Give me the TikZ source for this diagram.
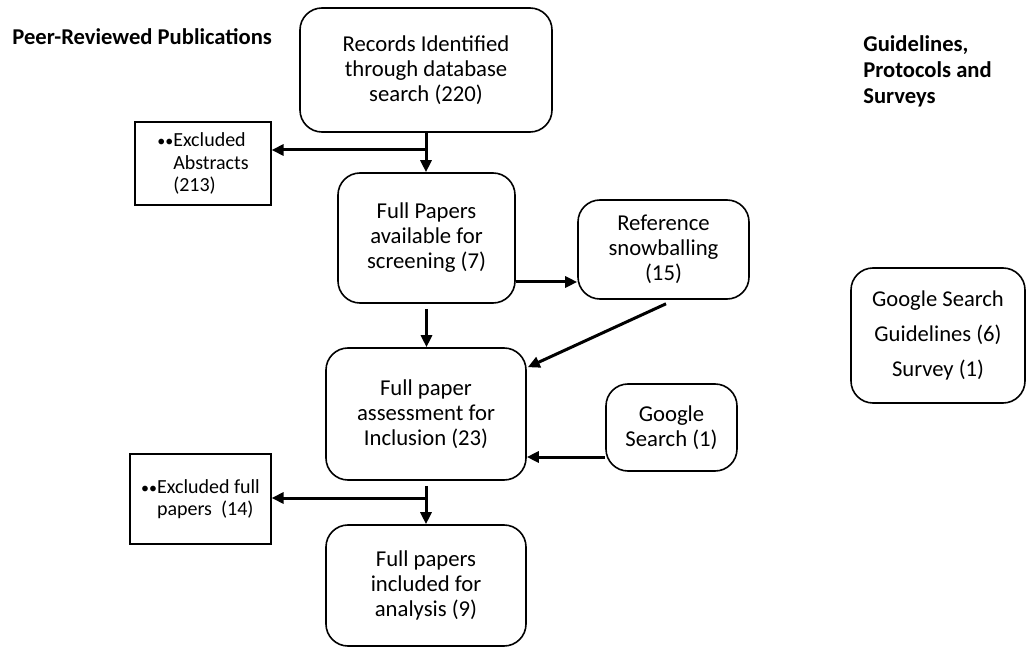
\documentclass[tikz,border=0pt]{standalone}
\usepackage{fontspec}
\setmainfont{Carlito}
\usetikzlibrary{arrows.meta,calc}
\begin{document}
\begin{tikzpicture}[x=0.5pt,y=-0.5pt,
	box/.style={draw,line width=0.8pt,rounded corners=11pt,align=center,font=\fontsize{11.35}{12.5}\selectfont},
	exbox/.style={draw,line width=0.6pt,align=left,font=\fontsize{10}{11.2}\selectfont},
	arr/.style={-{Triangle[length=6pt,width=5.5pt]},line width=1.5pt},
	head/.style={font=\bfseries\fontsize{11.3}{13}\selectfont,align=left,inner sep=0pt}]
			\useasboundingbox (0,0) rectangle (1030,647);
			% left column
			\node[head,anchor=west] (peer) at (12,37) {Peer-Reviewed Publications};
			\node[box,minimum width=126pt,minimum height=62pt] (rec) at (426,70) {Records Identified\\through database\\search (220)};
			\node[box,minimum width=88.5pt,minimum height=65pt] (fp) at (426.5,238) {Full Papers\\available for\\screening (7)};
			\node[box,minimum width=85.5pt,minimum height=49.5pt] (ref) at (663.5,249.5) {Reference\\snowballing\\(15)};
			\node[box,minimum width=100pt,minimum height=66pt] (asm) at (426,414) {Full paper\\assessment for\\Inclusion (23)};
			\node[box,minimum width=65.5pt,minimum height=43.5pt] (gs) at (671.5,427.5) {Google\\Search (1)};
			\node[box,minimum width=100pt,minimum height=60.5pt] (inc) at (426,585.5) {Full papers\\included for\\analysis (9)};
			\node[exbox,minimum width=68pt,minimum height=41.5pt,inner xsep=5pt] (exa) at (203,163.5)
				{{\footnotesize\textbullet\textbullet}Excluded\\\hphantom{\footnotesize\textbullet\textbullet}Abstracts\\\hphantom{\footnotesize\textbullet\textbullet}(213)};
			\node[exbox,minimum width=70.5pt,minimum height=45pt,inner xsep=3.5pt] (exf) at (200.5,499)
				{{\footnotesize\textbullet\textbullet}Excluded full\\\hphantom{\footnotesize\textbullet\textbullet}papers\ \ (14)};
			% right column
			\node[head,anchor=west] (guide) at (863,71) {Guidelines,\\Protocols and\\Surveys};
			\node[box,minimum width=87pt,minimum height=67.5pt,font=\fontsize{11.3}{17.5}\selectfont] (gsr) at (938,335.5) {Google Search\\Guidelines (6)\\Survey (1)};
			% connectors
			\coordinate (split1) at (426,150);
			\coordinate (split2) at (426,498);
			\draw[arr] (rec.south) -- (rec.south |- fp.north);
			\draw[arr] (split1) -- (split1 -| exa.east);
			\draw[arr] ([yshift=-22pt]fp.east) -- ([yshift=-22pt]fp.east -| ref.west);
			\draw[arr] ([yshift=-2.5pt]fp.south) -- (fp.south |- asm.north);
			\draw[arr] ([xshift=1.25pt,yshift=-2pt]ref.south) -- ([xshift=0.5pt,yshift=-10pt]asm.north east);
			\draw[arr] ([yshift=-14.75pt]gs.west) -- ([yshift=-14.75pt]gs.west -| asm.east);
			\draw[arr] ([yshift=-2.5pt]asm.south) -- (inc.north);
			\draw[arr] (split2) -- (split2 -| exf.east);
		\end{tikzpicture}
\end{document}
